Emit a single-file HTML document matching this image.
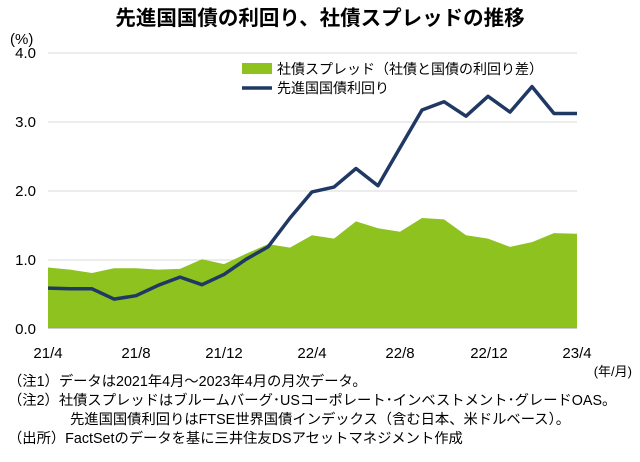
<!DOCTYPE html>
<html><head><meta charset="utf-8"><style>
body{margin:0;background:#fff;}
svg text{font-family:"Liberation Sans","Noto Sans CJK JP",sans-serif;fill:#000;}
</style></head><body>
<svg width="640" height="457" viewBox="0 0 640 457" xmlns="http://www.w3.org/2000/svg">
<text x="320" y="25" font-size="20.5" font-weight="bold" text-anchor="middle">先進国国債の利回り、社債スプレッドの推移</text>
<text x="10" y="44" font-size="15">(%)</text>
<g font-size="15" text-anchor="end">
<text x="36" y="58">4.0</text><text x="36" y="127">3.0</text><text x="36" y="196">2.0</text><text x="36" y="265">1.0</text><text x="36" y="334">0.0</text>
</g>
<g stroke="#d9d9d9" stroke-width="1">
<line x1="48" y1="53" x2="577" y2="53"/><line x1="48" y1="122" x2="577" y2="122"/><line x1="48" y1="191" x2="577" y2="191"/><line x1="48" y1="260" x2="577" y2="260"/>
</g>
<polygon fill="#8dc21f" points="48,328 48,267.5 70,269.6 92,273 114,268.2 136,268.2 158,269.6 180,268.9 202,259.3 224,264.1 246,253.8 268,244.1 290,247.6 312,235.2 334,238.6 356,221.4 378,228.3 400,231.8 422,218 444,219.4 466,235.2 488,238.6 510,246.9 532,242.1 554,233.1 577,233.8 577,328"/>
<line x1="48" y1="328" x2="577" y2="328" stroke="#999" stroke-width="1"/>
<polyline fill="none" stroke="#1f3864" stroke-width="3.5" stroke-linejoin="round" points="48,288.1 70,288.8 92,288.8 114,299.1 136,295.7 158,285.4 180,277.1 202,284.7 224,274.4 246,259.3 268,246.9 290,218 312,191.9 334,187.1 356,168.5 378,185.7 400,147.8 422,110 444,101.7 466,116.2 488,96.3 510,112.1 532,86.6 554,113.5 577,113.5"/>
<g font-size="15" text-anchor="middle">
<text x="48" y="358">21/4</text><text x="136" y="358">21/8</text><text x="224" y="358">21/12</text><text x="312" y="358">22/4</text><text x="400" y="358">22/8</text><text x="489" y="358">22/12</text><text x="577" y="358">23/4</text>
</g>
<rect x="242" y="63" width="30" height="11" fill="#8dc21f"/>
<text x="277" y="74" font-size="14">社債スプレッド（社債と国債の利回り差）</text>
<line x1="242" y1="88" x2="272" y2="88" stroke="#1f3864" stroke-width="3.5"/>
<text x="277" y="93" font-size="14">先進国国債利回り</text>
<text x="632" y="376" font-size="13" text-anchor="end">(年/月)</text>
<g font-size="14.3">
<text x="8" y="386">（注1）データは2021年4月～2023年4月の月次データ。</text>
<text x="8" y="405">（注2）社債スプレッドはブルームバーグ･USコーポレート･インベストメント･グレードOAS。</text>
<text x="70" y="424">先進国国債利回りはFTSE世界国債インデックス（含む日本、米ドルベース）。</text>
<text x="8" y="443">（出所）FactSetのデータを基に三井住友DSアセットマネジメント作成</text>
</g>
</svg>
</body></html>
